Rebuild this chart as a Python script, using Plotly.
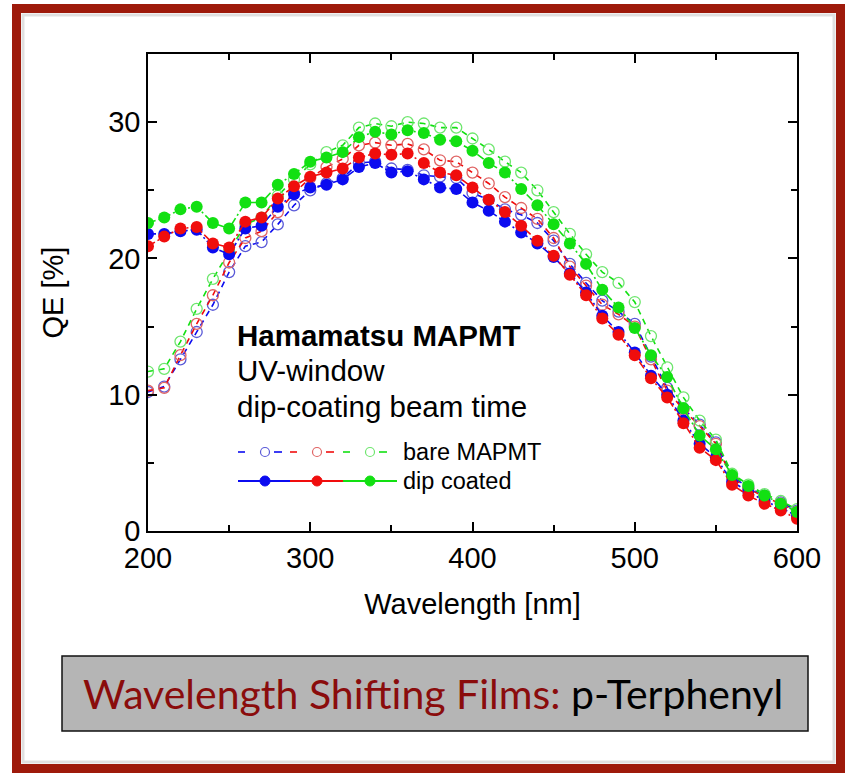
import plotly.graph_objects as go

wavelength = list(range(200, 601, 10))

bare_blue = [10.2, 10.6, 12.6, 14.6, 16.6, 19.0, 20.9, 21.2, 22.5, 23.9, 25.0, 25.5, 25.9, 27.0, 27.1,
             26.6, 26.5, 26.1, 26.0, 25.9, 24.8, 24.3, 23.6, 23.2, 22.6, 21.3, 19.6, 18.2, 16.9, 16.1,
             15.2, 12.8, 10.5, 9.0, 7.8, 6.5, 4.0, 3.2, 2.6, 2.1, 1.5]
bare_red = [10.3, 10.5, 12.9, 15.2, 17.3, 19.7, 21.5, 22.0, 23.4, 24.8, 25.9, 26.7, 27.3, 28.3, 28.5,
            28.3, 28.4, 28.0, 27.2, 27.1, 26.3, 25.5, 24.5, 23.7, 22.9, 21.5, 19.4, 18.0, 16.6, 15.9,
            15.0, 12.6, 10.3, 8.9, 7.7, 6.4, 3.9, 3.1, 2.5, 2.0, 1.4]
bare_green = [11.7, 11.9, 13.9, 16.3, 18.5, 20.5, 22.5, 23.0, 24.6, 25.8, 26.9, 27.8, 28.3, 29.6, 29.9,
              29.7, 30.0, 29.9, 29.6, 29.6, 28.8, 28.0, 27.1, 26.3, 25.0, 23.4, 21.8, 20.3, 19.0, 18.2,
              16.8, 14.3, 12.0, 9.8, 8.1, 6.7, 4.2, 3.4, 2.7, 2.2, 1.6]
dip_blue = [21.8, 21.8, 22.0, 22.1, 20.8, 20.3, 22.2, 22.4, 23.8, 24.7, 25.2, 25.4, 25.8, 26.7, 27.0,
            26.3, 26.4, 25.8, 25.2, 25.1, 24.1, 23.5, 22.7, 21.9, 21.1, 20.1, 18.9, 17.5, 15.8, 14.6,
            13.1, 11.4, 10.0, 8.1, 6.4, 5.4, 3.6, 2.9, 2.2, 1.7, 1.1]
dip_red = [20.9, 21.6, 22.2, 22.3, 21.1, 20.8, 22.7, 23.0, 24.4, 25.3, 26.0, 26.3, 26.6, 27.4, 27.7,
           27.6, 27.7, 27.0, 26.3, 26.1, 25.2, 24.3, 23.4, 22.4, 21.3, 20.2, 18.8, 17.3, 15.6, 14.4,
           12.9, 11.2, 9.8, 7.9, 6.1, 5.2, 3.4, 2.6, 2.0, 1.5, 0.9]
dip_green = [22.6, 23.0, 23.6, 23.8, 22.6, 22.2, 24.1, 24.1, 25.4, 26.2, 27.1, 27.4, 27.8, 28.9, 29.3,
             29.1, 29.4, 29.2, 28.7, 28.6, 27.9, 27.0, 26.3, 25.1, 23.9, 22.5, 21.1, 19.6, 17.7, 16.4,
             14.9, 12.9, 11.3, 9.0, 7.0, 6.0, 4.1, 3.3, 2.6, 2.0, 1.4]

x_ticks = [200, 300, 400, 500, 600]
y_ticks = [0, 10, 20, 30]

W, H = 856, 778
L, R, T, B = 148, 797, 54, 531  # plot area pixel bounds

def px(x):
    return (x - L) / (R - L)

def py(y):
    return (B - y) / (B - T)

FONT = "Arial, Liberation Sans, sans-serif"
BLUE, RED, GREEN = "#0b0bf0", "#f00d0d", "#12e012"
BLUE_O, RED_O, GREEN_O = "#5a5ad8", "#e06464", "#6ee66e"

fig = go.Figure()

bare = [(bare_blue, BLUE, BLUE_O), (bare_red, RED, RED_O), (bare_green, GREEN, GREEN_O)]
dip = [(dip_blue, BLUE), (dip_red, RED), (dip_green, GREEN)]

for vals, lc, mc in bare:
    fig.add_trace(go.Scatter(
        x=wavelength, y=vals, mode="lines+markers",
        line=dict(color=lc, width=1.6, dash="6px,5px"),
        marker=dict(symbol="circle-open", size=11, color=mc, line=dict(width=1.3, color=mc)),
        showlegend=False))

for vals, c in dip:
    fig.add_trace(go.Scatter(
        x=wavelength, y=vals, mode="lines+markers",
        line=dict(color=c, width=1.6, dash="8px,3px,2px,3px"),
        marker=dict(symbol="circle", size=12, color=c),
        showlegend=False))

shapes = []
annotations = []

# outer frame
shapes.append(dict(type="rect", xref="paper", yref="paper",
                   x0=px(16.5), x1=px(840.5), y0=py(8.5), y1=py(768.5),
                   line=dict(color="#9e1a0b", width=9), layer="below"))
shapes.append(dict(type="rect", xref="paper", yref="paper",
                   x0=px(23), x1=px(834), y0=py(15), y1=py(762),
                   line=dict(color="rgba(0,0,0,0.12)", width=3), layer="below"))

# bottom caption box
shapes.append(dict(type="rect", xref="paper", yref="paper",
                   x0=px(62), x1=px(808), y0=py(656), y1=py(731),
                   line=dict(color="#111111", width=1.5), fillcolor="#b5b5b5", layer="below"))
annotations.append(dict(xref="paper", yref="paper", x=px(433), y=py(693),
                        text="<span style='color:#8a0c0c'>Wavelength Shifting Films:</span> p-Terphenyl",
                        showarrow=False, font=dict(family="Lato, Noto Sans, sans-serif", size=41, color="#000000"),
                        xanchor="center", yanchor="middle"))

# in-plot text
TXT = 29.5
annotations.append(dict(xref="paper", yref="paper", x=px(235), y=py(335),
                        text="<b>Hamamatsu MAPMT</b>", showarrow=False,
                        font=dict(family=FONT, size=TXT, color="#000"), xanchor="left", yanchor="middle"))
annotations.append(dict(xref="paper", yref="paper", x=px(235), y=py(370),
                        text="UV-window", showarrow=False,
                        font=dict(family=FONT, size=TXT, color="#000"), xanchor="left", yanchor="middle"))
annotations.append(dict(xref="paper", yref="paper", x=px(235), y=py(406),
                        text="dip-coating beam time", showarrow=False,
                        font=dict(family=FONT, size=TXT, color="#000"), xanchor="left", yanchor="middle"))

# custom legend
row1, row2 = 452, 481
centers = [265, 317, 370]
cols = [(BLUE, BLUE_O), (RED, RED_O), (GREEN, GREEN_O)]
for cx, (lc, mc) in zip(centers, cols):
    for a, b in [(cx - 27, cx - 20), (cx + 9, cx + 17)]:
        shapes.append(dict(type="line", xref="paper", yref="paper",
                           x0=px(a), x1=px(b), y0=py(row1), y1=py(row1),
                           line=dict(color=lc, width=1.6)))
    shapes.append(dict(type="circle", xref="paper", yref="paper",
                       xsizemode="pixel", ysizemode="pixel",
                       xanchor=px(cx), yanchor=py(row1),
                       x0=-4.5, x1=4.5, y0=-4.5, y1=4.5,
                       line=dict(color=mc, width=1.2)))
    shapes.append(dict(type="line", xref="paper", yref="paper",
                       x0=px(cx - 27), x1=px(cx + 27), y0=py(row2), y1=py(row2),
                       line=dict(color=lc, width=1.8)))
    shapes.append(dict(type="circle", xref="paper", yref="paper",
                       xsizemode="pixel", ysizemode="pixel",
                       xanchor=px(cx), yanchor=py(row2),
                       x0=-5, x1=5, y0=-5, y1=5,
                       fillcolor=lc, line=dict(color=lc, width=1)))
annotations.append(dict(xref="paper", yref="paper", x=px(401), y=py(row1),
                        text="bare MAPMT", showarrow=False,
                        font=dict(family=FONT, size=23.5, color="#000"), xanchor="left", yanchor="middle"))
annotations.append(dict(xref="paper", yref="paper", x=px(401), y=py(row2),
                        text="dip coated", showarrow=False,
                        font=dict(family=FONT, size=23.5, color="#000"), xanchor="left", yanchor="middle"))

axis_common = dict(showline=True, linecolor="#000", linewidth=1.5, mirror="allticks",
                   ticks="inside", ticklen=9, tickwidth=1.5, tickcolor="#000",
                   showgrid=False, zeroline=False,
                   tickfont=dict(family=FONT, size=29, color="#000"))

fig.update_layout(
    width=W, height=H,
    margin=dict(l=L, r=W - R, t=T, b=H - B),
    paper_bgcolor="white", plot_bgcolor="white",
    shapes=shapes, annotations=annotations,
    xaxis=dict(range=[200, 600], tickvals=x_ticks,
               minor=dict(dtick=50, ticks="inside", ticklen=6, tickwidth=1.5, tickcolor="#000"),
               title=dict(text="Wavelength [nm]", font=dict(family=FONT, size=29, color="#000"), standoff=21),
               **axis_common),
    yaxis=dict(range=[0, 35], tickvals=y_ticks,
               minor=dict(dtick=5, ticks="inside", ticklen=6, tickwidth=1.5, tickcolor="#000"),
               title=dict(text="QE [%]", font=dict(family=FONT, size=29, color="#000"), standoff=36),
               **axis_common),
)

fig.write_html("out.html")
